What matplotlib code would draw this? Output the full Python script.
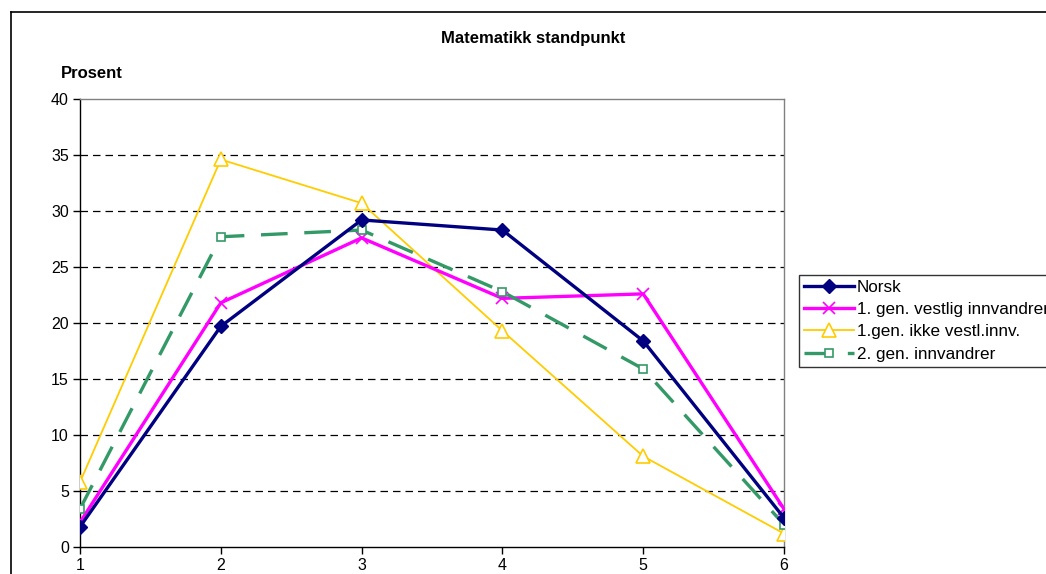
import matplotlib
matplotlib.use("Agg")
import matplotlib.pyplot as plt
from matplotlib.lines import Line2D

plt.rcParams["font.family"] = ["Liberation Sans", "DejaVu Sans"]

# data
karakter = [1, 2, 3, 4, 5, 6]
norsk = [1.8, 19.7, 29.2, 28.3, 18.4, 2.6]
vestlig_1gen = [2.2, 21.8, 27.6, 22.2, 22.6, 3.4]
ikke_vestlig_1gen = [5.8, 34.6, 30.7, 19.3, 8.1, 1.2]
innvandrer_2gen = [3.4, 27.7, 28.3, 22.8, 15.9, 2.0]
y_ticks = [0, 5, 10, 15, 20, 25, 30, 35, 40]

W, H = 1046, 574
fig = plt.figure(figsize=(W / 100, H / 100), dpi=100)
ax = fig.add_axes([80 / W, (H - 547) / H, (784 - 80) / W, (547 - 99) / H])

# outer chart border (only left and top visible in the crop)
fig.add_artist(Line2D([11 / W, 11 / W], [0, 1 - 12 / H], color="black", lw=1.2,
                      transform=fig.transFigure))
fig.add_artist(Line2D([11 / W, 1], [1 - 12 / H, 1 - 12 / H], color="black", lw=1.2,
                      transform=fig.transFigure))

ax.plot(karakter, norsk, color="#000080", lw=2.4, marker="D", ms=7,
        mfc="#000080", mec="#000080", label="Norsk", zorder=5)
ax.plot(karakter, vestlig_1gen, color="#FF00FF", lw=2.4, marker="x", ms=9,
        mew=1.2, label="1. gen. vestlig innvandrer", zorder=4)
ax.plot(karakter, ikke_vestlig_1gen, color="#FFCC00", lw=1.3, marker="^", ms=10,
        mfc="white", mec="#FFCC00", mew=1.2, label="1.gen. ikke vestl.innv.", zorder=3)
ax.plot(karakter, innvandrer_2gen, color="#339966", lw=2.4, ls=(0, (8, 5)),
        marker="s", ms=6, mfc="white", mec="#339966", mew=1.2,
        label="2. gen. innvandrer", zorder=4)

ax.set_xlim(1, 6)
ax.set_ylim(0, 40)
ax.set_xticks(karakter)
ax.set_yticks(y_ticks)
ax.tick_params(axis="both", direction="out", length=5, width=1, labelsize=11.5, pad=3)
for v in y_ticks[1:-1]:
    ax.axhline(v, color="black", lw=0.9, ls=(0, (6, 4)), zorder=1)

ax.spines["left"].set_color("black")
ax.spines["bottom"].set_color("black")
ax.spines["top"].set_color("#808080")
ax.spines["right"].set_color("#808080")
for s in ax.spines.values():
    s.set_linewidth(1.0)

fig.text(533 / W, 1 - 38 / H, "Matematikk standpunkt", ha="center", va="center",
         fontsize=12, fontweight="bold")
fig.text(61 / W, 1 - 73 / H, "Prosent", ha="left", va="center",
         fontsize=12, fontweight="bold")

leg = fig.legend(loc="upper left", bbox_to_anchor=(799 / W, 1 - 275 / H),
                 fontsize=12.3, frameon=True, fancybox=False, handlelength=2.9,
                 handletextpad=0.2, borderpad=0.3, labelspacing=0.42,
                 borderaxespad=0)
leg.get_frame().set_edgecolor("black")
leg.get_frame().set_linewidth(1.0)

fig.savefig("out.png", dpi=100)
